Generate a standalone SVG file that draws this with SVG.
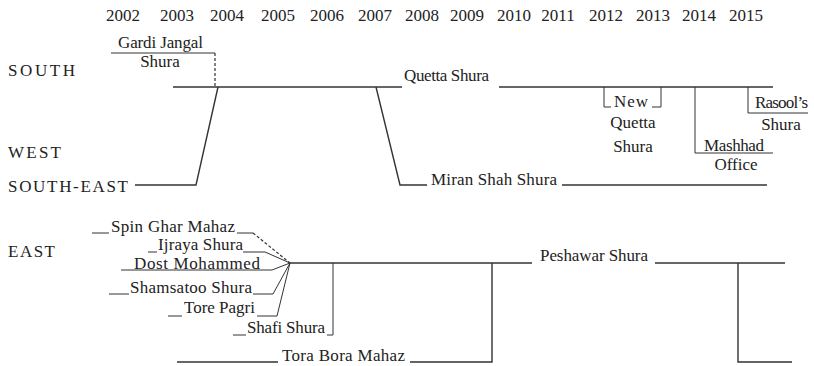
<svg xmlns="http://www.w3.org/2000/svg" width="814" height="366" viewBox="0 0 814 366" font-family="'Liberation Serif', 'Times New Roman', Times, 'DejaVu Serif', serif">
<style>
text{font-family:'Liberation Serif','Times New Roman',Times,'DejaVu Serif',serif;font-size:17px;fill:#222}
.yr{text-anchor:middle;font-size:17px}
.reg{font-size:17px}
.c{text-anchor:middle}
.ln{fill:none;stroke:#333;stroke-width:1.4}
.th{fill:none;stroke:#333;stroke-width:1}
.ds{fill:none;stroke:#333;stroke-width:1.2;stroke-dasharray:3 2}
</style>
<rect width="814" height="366" fill="#fff"/>
<g id="years">
<text class="yr" x="123" y="21">2002</text>
<text class="yr" x="177" y="21">2003</text>
<text class="yr" x="227" y="21">2004</text>
<text class="yr" x="278" y="21">2005</text>
<text class="yr" x="327" y="21">2006</text>
<text class="yr" x="375" y="21">2007</text>
<text class="yr" x="422" y="21">2008</text>
<text class="yr" x="467" y="21">2009</text>
<text class="yr" x="514" y="21">2010</text>
<text class="yr" x="558" y="21">2011</text>
<text class="yr" x="606" y="21">2012</text>
<text class="yr" x="653" y="21">2013</text>
<text class="yr" x="699" y="21">2014</text>
<text class="yr" x="746" y="21">2015</text>
</g>
<g id="regions">
<text class="reg" x="8" y="76" textLength="67">SOUTH</text>
<text class="reg" x="8" y="158" textLength="53">WEST</text>
<text class="reg" x="8" y="192" textLength="120">SOUTH-EAST</text>
<text class="reg" x="8" y="257" textLength="47">EAST</text>
</g>
<g id="connectors">
<path class="th" d="M111,53 H215"/>
<path class="ds" d="M215,53 V87"/>
<path class="ln" d="M173,87 H402"/>
<path class="ln" d="M499,87 H773"/>
<path class="ln" d="M135,185 H196 L218,87"/>
<path class="ln" d="M376,87 L400,185 H427"/>
<path class="ln" d="M562,185 H767"/>
<path class="th" d="M604,87 V107 H611"/>
<path class="th" d="M652,107 H661 V87"/>
<path class="th" d="M695,87 V153 H773"/>
<path class="th" d="M748,87 V113 H808"/>
<path class="th" d="M92,233 H109"/>
<path class="th" d="M237,233 H253"/>
<path class="ds" d="M253,233 L290,263"/>
<path class="th" d="M148,252 H157"/>
<path class="th" d="M243,252 H265 L290,263"/>
<path class="th" d="M121,270 H272 L290,263"/>
<path class="th" d="M109,294 H129"/>
<path class="th" d="M253,294 H273 L290,263"/>
<path class="th" d="M168,316 H182"/>
<path class="th" d="M257,316 H277 L290,263"/>
<path class="th" d="M233,335 H246"/>
<path class="th" d="M327,335 H333 V263"/>
<path class="ln" d="M290,263 H532"/>
<path class="ln" d="M655,263 H785"/>
<path class="ln" d="M177,362 H278"/>
<path class="ln" d="M410,362 H492 V263"/>
<path class="ln" d="M738,263 V362 H792"/>
</g>
<g id="gardi-jangal">
<text x="118" y="48" textLength="85">Gardi Jangal</text>
<text class="c" x="160" y="67">Shura</text>
</g>
<g id="quetta-shura"><text x="404" y="81" textLength="85">Quetta Shura</text></g>
<g id="miran-shah-shura"><text x="431" y="185" textLength="126">Miran Shah Shura</text></g>
<g id="new-quetta-shura">
<text x="614" y="107" textLength="34">New</text>
<text class="c" x="633" y="128">Quetta</text>
<text class="c" x="633" y="152">Shura</text>
</g>
<g id="mashhad-office">
<text x="704" y="151" textLength="60">Mashhad</text>
<text class="c" x="736" y="170">Office</text>
</g>
<g id="rasools-shura">
<text x="755" y="108" textLength="53">Rasool’s</text>
<text class="c" x="781" y="130">Shura</text>
</g>
<g id="peshawar-shura"><text x="540" y="261" textLength="108">Peshawar Shura</text></g>
<g id="spin-ghar-mahaz"><text x="111" y="232" textLength="124">Spin Ghar Mahaz</text></g>
<g id="ijraya-shura"><text x="158" y="250" textLength="85">Ijraya Shura</text></g>
<g id="dost-mohammed"><text x="134" y="268.5" textLength="126">Dost Mohammed</text></g>
<g id="shamsatoo-shura"><text x="130" y="293" textLength="122">Shamsatoo Shura</text></g>
<g id="tore-pagri"><text x="184" y="313" textLength="71">Tore Pagri</text></g>
<g id="shafi-shura"><text x="247" y="333" textLength="78">Shafi Shura</text></g>
<g id="tora-bora-mahaz"><text x="282" y="361" textLength="123">Tora Bora Mahaz</text></g>
</svg>
